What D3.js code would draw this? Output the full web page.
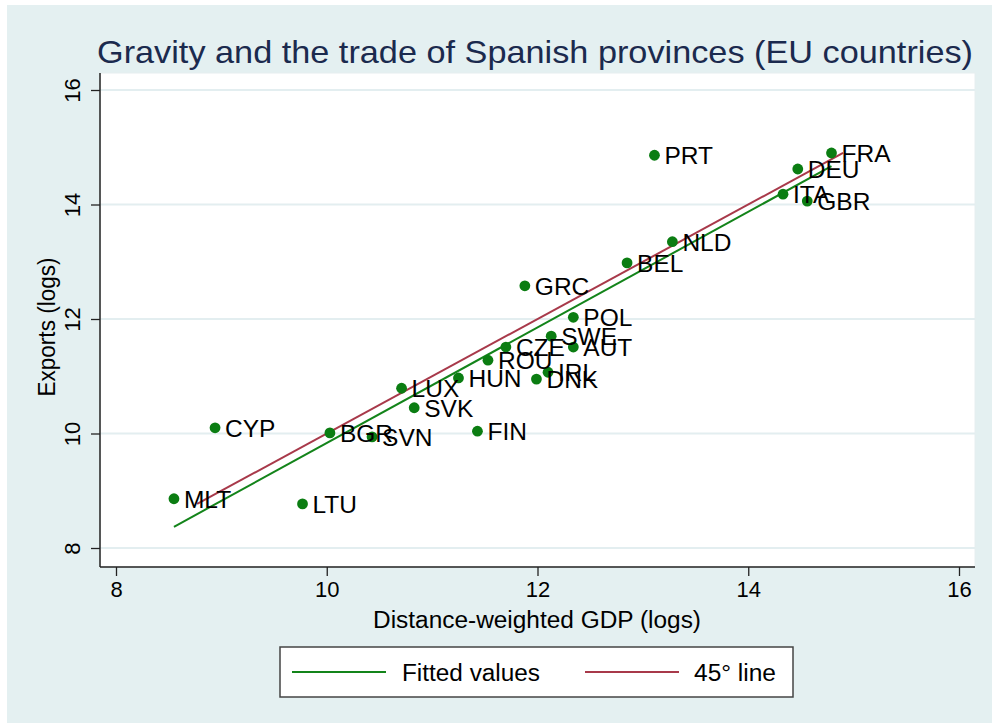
<!DOCTYPE html>
<html>
<head>
<meta charset="utf-8">
<script src="https://cdn.jsdelivr.net/npm/d3@7"></script>
<style>
  html, body { margin: 0; padding: 0; background: #ffffff; }
  svg { display: block; font-family: "Liberation Sans", Arial, Helvetica, sans-serif; }
</style>
</head>
<body>
<svg id="chart" width="994" height="724"></svg>
<script>
// ---- data ----
const countries = ["FRA","DEU","ITA","GBR","PRT","NLD","BEL","GRC","POL","SWE","AUT","CZE","ROU","HUN","IRL","DNK","LUX","SVK","FIN","BGR","SVN","CYP","MLT","LTU"];
const gdpLog    = [14.79,14.47,14.33,14.56,13.11,13.28,12.85,11.88,12.34,12.13,12.34,11.70,11.53,11.25,12.10,11.99,10.71,10.83,11.43,10.03,10.43,8.94,8.55,9.77];
const exportsLog= [14.90,14.62,14.18,14.06,14.86,13.35,12.98,12.58,12.03,11.70,11.51,11.51,11.28,10.97,11.07,10.95,10.79,10.45,10.04,10.01,9.94,10.10,8.86,8.77];
const fittedX = [8.55, 14.79];
const fittedY = [8.37, 14.67];
const line45X = [8.77, 14.90];
const line45Y = [8.77, 14.90];
const xTicks = [8, 10, 12, 14, 16];
const yTicks = [8, 10, 12, 14, 16];
const legendLabels = ["Fitted values", "45° line"];

// ---- layout ----
const svg = d3.select("#chart");
const W = 994, H = 724;
const plot = { left: 100, right: 975, top: 73, bottom: 567 };
const colGreen = "#13841a", colDot = "#0b7d12", colRed = "#a8394a";
const font = "'Liberation Sans', Arial, Helvetica, sans-serif";

svg.append("rect").attr("x", 0).attr("y", 0).attr("width", W).attr("height", H).attr("fill", "#ffffff");
svg.append("rect").attr("x", 7).attr("y", 5).attr("width", W - 9).attr("height", H - 6).attr("fill", "#e4f0f1");

const x = d3.scaleLinear().domain([8, 16]).range([116, 959]);
const y = d3.scaleLinear().domain([8, 16]).range([548, 90]);

// plot region
svg.append("rect").attr("x", plot.left).attr("y", plot.top)
  .attr("width", plot.right - plot.left).attr("height", plot.bottom - plot.top)
  .attr("fill", "#ffffff").attr("stroke", "#e6eef0").attr("stroke-width", 1);

// grid
svg.append("g").selectAll("line").data(yTicks).join("line")
  .attr("x1", plot.left).attr("x2", plot.right)
  .attr("y1", d => y(d)).attr("y2", d => y(d))
  .attr("stroke", "#e3eef0").attr("stroke-width", 2);

// axes
const xAxis = d3.axisBottom(x).tickValues(xTicks).tickSize(9).tickPadding(5).tickFormat(d3.format("d"));
const gx = svg.append("g").attr("transform", `translate(0,${plot.bottom})`).call(xAxis);
gx.select(".domain").remove();
gx.selectAll(".tick line").attr("stroke", "#222").attr("stroke-width", 1.3);
gx.selectAll(".tick text").attr("font-family", font).attr("font-size", 22).attr("fill", "#000").attr("dy", "0.72em");

const yAxis = d3.axisLeft(y).tickValues(yTicks).tickSize(9).tickFormat(d3.format("d"));
const gy = svg.append("g").attr("transform", `translate(${plot.left},0)`).call(yAxis);
gy.select(".domain").remove();
gy.selectAll(".tick line").attr("stroke", "#222").attr("stroke-width", 1.3);
gy.selectAll(".tick text").attr("font-family", font).attr("font-size", 22).attr("fill", "#000")
  .attr("x", 0).attr("dy", 0)
  .attr("text-anchor", "middle")
  .attr("transform", "translate(-20,0) rotate(-90)")
  .attr("dominant-baseline", "auto");

svg.append("line").attr("x1", plot.left).attr("x2", plot.right).attr("y1", plot.bottom).attr("y2", plot.bottom)
  .attr("stroke", "#222").attr("stroke-width", 1.5);
svg.append("line").attr("x1", plot.left).attr("x2", plot.left).attr("y1", plot.top).attr("y2", plot.bottom)
  .attr("stroke", "#222").attr("stroke-width", 1.5);

// lines
const lineGen = d3.line().x(d => x(d[0])).y(d => y(d[1]));
svg.append("path").datum(d3.zip(line45X, line45Y)).attr("d", lineGen)
  .attr("fill", "none").attr("stroke", colRed).attr("stroke-width", 2);
svg.append("path").datum(d3.zip(fittedX, fittedY)).attr("d", lineGen)
  .attr("fill", "none").attr("stroke", colGreen).attr("stroke-width", 2);

// points
const pts = countries.map((c, i) => ({ c, gx: gdpLog[i], ey: exportsLog[i] }));
svg.append("g").selectAll("circle").data(pts).join("circle")
  .attr("cx", d => x(d.gx)).attr("cy", d => y(d.ey)).attr("r", 5.4).attr("fill", colDot);
svg.append("g").selectAll("text").data(pts).join("text")
  .attr("x", d => x(d.gx) + 10).attr("y", d => y(d.ey) + 9)
  .attr("font-family", font).attr("font-size", 24.5).attr("fill", "#000")
  .text(d => d.c);

// title
svg.append("text").attr("x", 535).attr("y", 63).attr("text-anchor", "middle")
  .attr("font-family", font).attr("font-size", 32).attr("fill", "#1b2a4e")
  .attr("textLength", 876).attr("lengthAdjust", "spacingAndGlyphs")
  .text("Gravity and the trade of Spanish provinces (EU countries)");

// axis titles
svg.append("text").attr("x", 537).attr("y", 628).attr("text-anchor", "middle")
  .attr("font-family", font).attr("font-size", 23.5).attr("fill", "#000")
  .attr("textLength", 328).attr("lengthAdjust", "spacingAndGlyphs")
  .text("Distance-weighted GDP (logs)");
svg.append("text").attr("transform", "translate(55,327) rotate(-90)").attr("text-anchor", "middle")
  .attr("font-family", font).attr("font-size", 23).attr("fill", "#000")
  .attr("textLength", 139).attr("lengthAdjust", "spacingAndGlyphs")
  .text("Exports (logs)");

// legend
const lg = svg.append("g");
lg.append("rect").attr("x", 280).attr("y", 647).attr("width", 513).attr("height", 50)
  .attr("fill", "#fff").attr("stroke", "#444").attr("stroke-width", 1.5);
const legItems = [
  { label: legendLabels[0], color: colGreen, x1: 292, x2: 386, tx: 402, tl: 138 },
  { label: legendLabels[1], color: colRed, x1: 585, x2: 679, tx: 694, tl: 82 }
];
legItems.forEach(it => {
  lg.append("line").attr("x1", it.x1).attr("x2", it.x2).attr("y1", 672).attr("y2", 672)
    .attr("stroke", it.color).attr("stroke-width", 2);
  lg.append("text").attr("x", it.tx).attr("y", 681).attr("font-family", font)
    .attr("font-size", 23.5).attr("fill", "#000")
    .attr("textLength", it.tl).attr("lengthAdjust", "spacingAndGlyphs")
    .text(it.label);
});
</script>
</body>
</html>
